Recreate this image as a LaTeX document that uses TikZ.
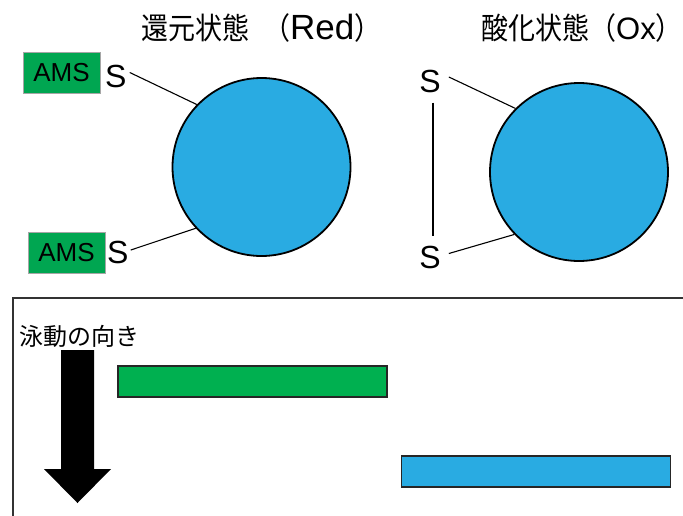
\documentclass[tikz,border=0pt]{standalone}
\usepackage{fontspec}
\setmainfont{Liberation Sans}
\newfontfamily\cjk{Noto Sans CJK JP}
\definecolor{pblue}{RGB}{41,171,226}
\definecolor{pgreen}{RGB}{0,176,80}
\definecolor{agreen}{RGB}{0,166,81}
\newcommand{\tallcjk}[1]{\scalebox{1}[1.12]{\cjk #1}}
\newcommand{\closeparen}{\makebox[13pt][l]{\tallcjk{）}}}
\begin{document}
\begin{tikzpicture}[x=1pt,y=-1pt,
  particle/.style={circle,draw=black,line width=1.8pt,fill=pblue,minimum size=178pt,inner sep=0pt},
  amsbox/.style={rectangle,draw=black!35,line width=0.8pt,fill=agreen,minimum width=77pt,minimum height=41pt,inner sep=0pt,font=\fontsize{26}{30}\selectfont},
  sulfur/.style={inner sep=0pt,font=\fontsize{32}{36}\selectfont},
  link/.style={line width=1.1pt},
  title/.style={inner sep=0pt,anchor=west,font=\fontsize{27}{32}\selectfont},
  bar/.style={rectangle,draw=black!85,line width=1.8pt,minimum width=269pt,minimum height=31pt,inner sep=0pt},
  frame/.style={draw=black!80,line width=1.4pt}
]
\useasboundingbox (0,0) rectangle (683,515);
% titles
\node[title] (t1) at (141,28) {\tallcjk{還元状態}\hspace{14pt}\tallcjk{（}{\fontsize{35}{40}\selectfont Red}\closeparen};
\node[title] (t2) at (481,28) {\tallcjk{酸化状態（}{\fontsize{31}{36}\selectfont Ox}\closeparen};
% particles
\node[particle] (c1) at (261.5,167) {};
\node[particle] (c2) at (579,172) {};
% reduced state
\node[amsbox] (a1) at (61.5,72.5) {AMS};
\node[sulfur,anchor=west] (s1) at (105,76.5) {S};
\node[amsbox] (a2) at (66.5,253) {AMS};
\node[sulfur,anchor=west] (s2) at (107,252) {S};
\draw[link] ([xshift=3pt,yshift=4pt]s1.east) -- (c1.136);
\draw[link] ([xshift=2pt,yshift=2pt]s2.east) -- (c1.223.5);
% oxidized state
\node[sulfur] (s3) at (430,81) {S};
\node[sulfur] (s4) at (430,257.5) {S};
\draw[link] ([xshift=8pt,yshift=4pt]s3.east) -- (c2.135);
\draw[link] ([xshift=8pt,yshift=4pt]s4.east) -- (c2.224);
\draw[link] ([xshift=3pt,yshift=-10pt]s3.south) -- ([xshift=3pt,yshift=10pt]s4.north);
% electrophoresis panel
\draw[frame] (13,520) -- (13,298) -- (690,298);
\node[inner sep=0pt,anchor=west,font=\fontsize{24}{28}\selectfont\cjk] (lbl) at (19,336) {泳動の向き};
\fill[black] (61,350) -- (94,350) -- (94,469) -- (111,469) -- (77.5,503) -- (44,469) -- (61,469) -- cycle;
\node[bar,fill=pgreen] (g) at (252.5,381.5) {};
\node[bar,fill=pblue] (b) at (536,471.5) {};
\end{tikzpicture}
\end{document}
